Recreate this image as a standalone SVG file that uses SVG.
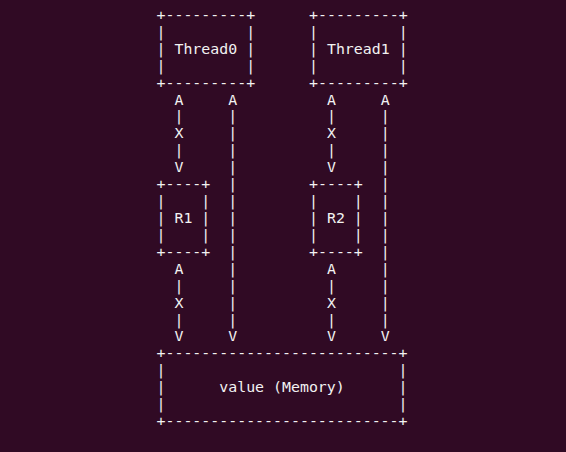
<svg xmlns="http://www.w3.org/2000/svg" width="566" height="452" viewBox="0 0 566 452" xml:space="preserve">
<style>
text{font-family:"DejaVu Sans Mono","Liberation Mono",monospace;font-size:14.9px;fill:#f2f2f2;white-space:pre}
</style>
<rect x="0" y="0" width="566" height="452" fill="#300a24"/>
<g id="thread0">
<text x="156.5" y="19.9">+---------+</text>
<text x="156.5" y="36.8">|         |</text>
<text x="156.5" y="53.7">| Thread0 |</text>
<text x="156.5" y="70.7">|         |</text>
<text x="156.5" y="87.6">+---------+</text>
</g>
<g id="thread1">
<text x="309" y="19.9">+---------+</text>
<text x="309" y="36.8">|         |</text>
<text x="309" y="53.7">| Thread1 |</text>
<text x="309" y="70.7">|         |</text>
<text x="309" y="87.6">+---------+</text>
</g>
<g id="r1">
<text x="156.5" y="189.1">+----+</text>
<text x="156.5" y="206.0">|    |</text>
<text x="156.5" y="222.9">| R1 |</text>
<text x="156.5" y="239.9">|    |</text>
<text x="156.5" y="256.8">+----+</text>
</g>
<g id="r2">
<text x="309" y="189.1">+----+</text>
<text x="309" y="206.0">|    |</text>
<text x="309" y="222.9">| R2 |</text>
<text x="309" y="239.9">|    |</text>
<text x="309" y="256.8">+----+</text>
</g>
<g id="memory">
<text x="156.5" y="358.3">+--------------------------+</text>
<text x="156.5" y="375.2">|                          |</text>
<text x="156.5" y="392.1">|      value (Memory)      |</text>
<text x="156.5" y="409.1">|                          |</text>
<text x="156.5" y="426.0">+--------------------------+</text>
</g>
<g id="connectors">
<text><tspan x="174.4" y="104.5">A</tspan><tspan x="174.4" y="121.4">|</tspan><tspan x="174.4" y="138.3">X</tspan><tspan x="174.4" y="155.3">|</tspan><tspan x="174.4" y="172.2">V</tspan></text>
<text><tspan x="174.4" y="273.7">A</tspan><tspan x="174.4" y="290.6">|</tspan><tspan x="174.4" y="307.5">X</tspan><tspan x="174.4" y="324.5">|</tspan><tspan x="174.4" y="341.4">V</tspan></text>
<text><tspan x="326.9" y="104.5">A</tspan><tspan x="326.9" y="121.4">|</tspan><tspan x="326.9" y="138.3">X</tspan><tspan x="326.9" y="155.3">|</tspan><tspan x="326.9" y="172.2">V</tspan></text>
<text><tspan x="326.9" y="273.7">A</tspan><tspan x="326.9" y="290.6">|</tspan><tspan x="326.9" y="307.5">X</tspan><tspan x="326.9" y="324.5">|</tspan><tspan x="326.9" y="341.4">V</tspan></text>
<text><tspan x="228.3" y="104.5">A</tspan><tspan x="228.3" y="121.4">|</tspan><tspan x="228.3" y="138.3">|</tspan><tspan x="228.3" y="155.3">|</tspan><tspan x="228.3" y="172.2">|</tspan><tspan x="228.3" y="189.1">|</tspan><tspan x="228.3" y="206.0">|</tspan><tspan x="228.3" y="222.9">|</tspan><tspan x="228.3" y="239.9">|</tspan><tspan x="228.3" y="256.8">|</tspan><tspan x="228.3" y="273.7">|</tspan><tspan x="228.3" y="290.6">|</tspan><tspan x="228.3" y="307.5">|</tspan><tspan x="228.3" y="324.5">|</tspan><tspan x="228.3" y="341.4">V</tspan></text>
<text><tspan x="380.8" y="104.5">A</tspan><tspan x="380.8" y="121.4">|</tspan><tspan x="380.8" y="138.3">|</tspan><tspan x="380.8" y="155.3">|</tspan><tspan x="380.8" y="172.2">|</tspan><tspan x="380.8" y="189.1">|</tspan><tspan x="380.8" y="206.0">|</tspan><tspan x="380.8" y="222.9">|</tspan><tspan x="380.8" y="239.9">|</tspan><tspan x="380.8" y="256.8">|</tspan><tspan x="380.8" y="273.7">|</tspan><tspan x="380.8" y="290.6">|</tspan><tspan x="380.8" y="307.5">|</tspan><tspan x="380.8" y="324.5">|</tspan><tspan x="380.8" y="341.4">V</tspan></text>
</g>
</svg>
